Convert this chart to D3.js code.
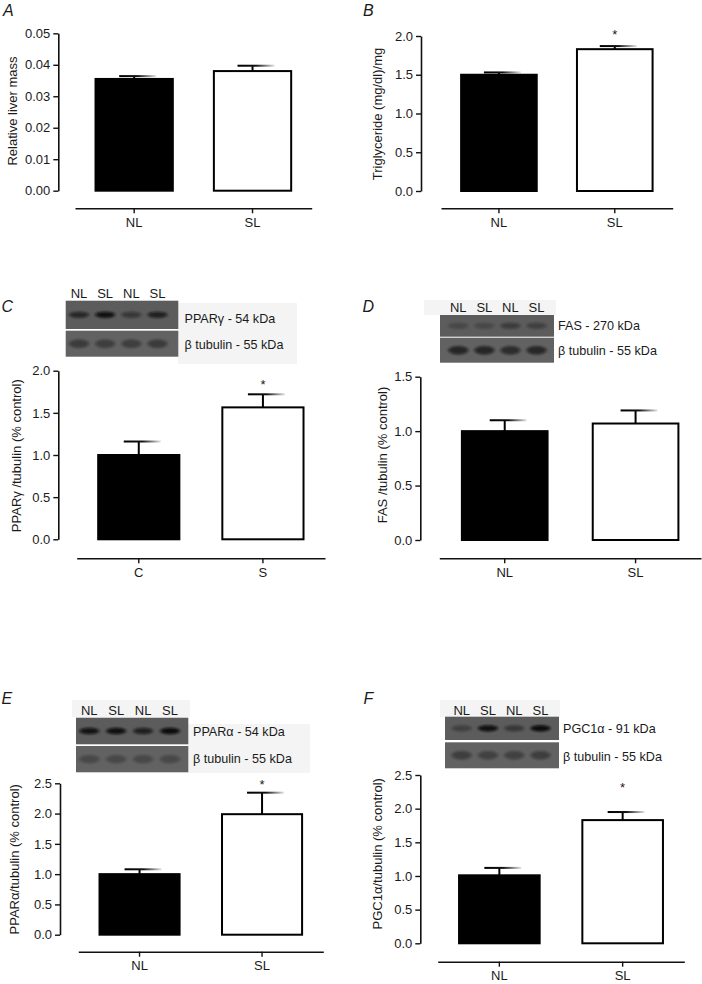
<!DOCTYPE html>
<html><head><meta charset="utf-8">
<script src="https://cdn.jsdelivr.net/npm/d3@7"></script>
<style>
html,body{margin:0;padding:0;background:#fff;}
svg{display:block;}
text{font-family:"Liberation Sans",Arial,Helvetica,sans-serif;fill:#1a1a1a;}
</style></head>
<body>
<script>
// ---------------- DATA ----------------
const panelLetters = ["A","B","C","D","E","F"];
const groupsA = ["NL","SL"], groupsB = ["NL","SL"], groupsC = ["C","S"],
      groupsD = ["NL","SL"], groupsE = ["NL","SL"], groupsF = ["NL","SL"];
const meanA = [0.0355, 0.0380], semA = [0.0009, 0.0017];
const meanB = [1.50, 1.83],     semB = [0.03, 0.04];
const meanC = [1.00, 1.565],    semC = [0.16, 0.155];
const meanD = [1.00, 1.07],     semD = [0.10, 0.12];
const meanE = [1.00, 1.99],     semE = [0.08, 0.355];
const meanF = [1.01, 1.83],     semF = [0.11, 0.12];
const starA = [null, null], starB = [null, 2.05], starC = [null, 1.86],
      starD = [null, null], starE = [null, 2.51], starF = [null, 2.35];
const ticksA = [0, 0.01, 0.02, 0.03, 0.04, 0.05];
const ticksB = [0, 0.5, 1.0, 1.5, 2.0];
const ticksC = [0, 0.5, 1.0, 1.5, 2.0];
const ticksD = [0, 0.5, 1.0, 1.5];
const ticksE = [0, 0.5, 1.0, 1.5, 2.0, 2.5];
const ticksF = [0, 0.5, 1.0, 1.5, 2.0, 2.5];
const titleA = "Relative liver mass";
const titleB = "Triglyceride (mg/dl)/mg";
const titleC = "PPARγ /tubulin (% control)";
const titleD = "FAS /tubulin (% control)";
const titleE = "PPARα/tubulin (% control)";
const titleF = "PGC1α/tubulin (% control)";
const laneLabels = ["NL","SL","NL","SL"];
const blotLabelsC = ["PPARγ - 54 kDa", "β tubulin - 55 kDa"];
const blotLabelsD = ["FAS - 270 kDa", "β tubulin - 55 kDa"];
const blotLabelsE = ["PPARα - 54 kDa", "β tubulin - 55 kDa"];
const blotLabelsF = ["PGC1α - 91 kDa", "β tubulin - 55 kDa"];
// band darkness (0-1) per lane, target row then tubulin row
const bandsC = [[0.65, 0.95, 0.45, 0.75], [0.45, 0.42, 0.42, 0.45]];
const bandsD = [[0.25, 0.25, 0.40, 0.35], [0.70, 0.70, 0.62, 0.68]];
const bandsE = [[0.90, 0.95, 0.75, 1.00], [0.30, 0.30, 0.30, 0.30]];
const bandsF = [[0.35, 0.95, 0.45, 1.00], [0.42, 0.38, 0.38, 0.42]];

// ---------------- LAYOUT ----------------
const W = 702, H = 984;
const FS = 13;
const svg = d3.select("body").append("svg").attr("width", W).attr("height", H);
svg.append("rect").attr("width", W).attr("height", H).attr("fill", "#fff");
const defs = svg.append("defs");
const grad = defs.append("linearGradient").attr("id", "capGrad")
  .attr("x1", "0").attr("x2", "1").attr("y1", "0").attr("y2", "0");
grad.append("stop").attr("offset", "0").attr("stop-color", "#000");
grad.append("stop").attr("offset", "0.5").attr("stop-color", "#111");
grad.append("stop").attr("offset", "1").attr("stop-color", "#e6e6e6");
const blur = defs.append("filter").attr("id", "bandBlur")
  .attr("x", "-50%").attr("y", "-100%").attr("width", "200%").attr("height", "300%");
blur.append("feGaussianBlur").attr("stdDeviation", "1.6 1.2");

const panels = [
  {letter: panelLetters[0], groups: groupsA, mean: meanA, sem: semA, star: starA, ticks: ticksA, fmt: ".2f", title: titleA,
   ax: 58.3, y0: 190.7, y1: 33.3, xl: [75, 311.7], xAxisY: 208.3, lpos: [3, 15.5], tpos: [16.5, 111]},
  {letter: panelLetters[1], groups: groupsB, mean: meanB, sem: semB, star: starB, ticks: ticksB, fmt: ".1f", title: titleB,
   ax: 421, y0: 191, y1: 36, xl: [441, 672.7], xAxisY: 208.3, lpos: [363, 15.5], tpos: [382, 114]},
  {letter: panelLetters[2], groups: groupsC, mean: meanC, sem: semC, star: starC, ticks: ticksC, fmt: ".1f", title: titleC,
   ax: 58.3, y0: 539.3, y1: 370.7, xl: [76.7, 325], xAxisY: 558.3, lpos: [1.5, 312], tpos: [20.5, 455.7],
   blot: {x: [65.7, 178.3], rows: [[300.7, 329], [330.7, 356.7]], lanes: [79, 157.5], laneY: 298,
          labels: blotLabelsC, labelX: 184.5, labelY: [322.8, 348.8], bands: bandsC,
          bg: [[178, 303, 119, 61]]}},
  {letter: panelLetters[3], groups: groupsD, mean: meanD, sem: semD, star: starD, ticks: ticksD, fmt: ".1f", title: titleD,
   ax: 420.3, y0: 540, y1: 376.7, xl: [439.3, 701], xAxisY: 558.3, lpos: [362.5, 312], tpos: [386.5, 455],
   blot: {x: [440, 554], rows: [[315, 336.7], [337.7, 362.7]], lanes: [458.3, 536.5], laneY: 312,
          labels: blotLabelsD, labelX: 558, labelY: [329.6, 354.6], bands: bandsD,
          bg: [[424, 300, 132, 15]]}},
  {letter: panelLetters[4], groups: groupsE, mean: meanE, sem: semE, star: starE, ticks: ticksE, fmt: ".1f", title: titleE,
   ax: 60, y0: 934.7, y1: 783.3, xl: [78.3, 323.3], xAxisY: 951.7, lpos: [1.5, 703.5], tpos: [18.5, 859.3],
   blot: {x: [76, 188.3], rows: [[717.7, 744.3], [746, 772.3]], lanes: [89.3, 170], laneY: 714.8,
          labels: blotLabelsE, labelX: 193, labelY: [735.6, 762.9], bands: bandsE,
          bg: [[72, 700, 118, 17], [188, 724, 122, 49]]}},
  {letter: panelLetters[5], groups: groupsF, mean: meanF, sem: semF, star: starF, ticks: ticksF, fmt: ".1f", title: titleF,
   ax: 420.3, y0: 943.3, y1: 775, xl: [437.7, 684.3], xAxisY: 961.7, lpos: [363.5, 703.5], tpos: [382, 853.8],
   blot: {x: [445, 559], rows: [[716.7, 740], [742.3, 768.3]], lanes: [461.7, 540.5], laneY: 714.8,
          labels: blotLabelsF, labelX: 563, labelY: [733, 760.6], bands: bandsF,
          bg: [[440, 700, 120, 17]]}}
];

panels.forEach(p => {
  const g = svg.append("g");
  const yMax = p.ticks[p.ticks.length - 1];
  const y = d3.scaleLinear().domain([0, yMax]).range([p.y0, p.y1]);
  const x = d3.scaleBand().domain(p.groups).range(p.xl).paddingInner(0.33).paddingOuter(0.165);

  // Panel letter
  g.append("text").attr("x", p.lpos[0]).attr("y", p.lpos[1])
    .attr("font-size", 16).attr("font-style", "italic").text(p.letter);

  // Blot
  if (p.blot) {
    const b = p.blot;
    b.bg.forEach(r => g.append("rect").attr("x", r[0]).attr("y", r[1]).attr("width", r[2]).attr("height", r[3]).attr("fill", "#f4f4f4"));
    const lane = d3.scalePoint().domain(d3.range(4)).range(b.lanes);
    b.rows.forEach((row, ri) => {
      g.append("rect").attr("x", b.x[0]).attr("y", row[0]).attr("width", b.x[1] - b.x[0]).attr("height", row[1] - row[0])
        .attr("fill", ri === 0 ? "#5c5c5c" : "#626262");
      const cy = (row[0] + row[1]) / 2;
      b.bands[ri].forEach((v, i) => {
        g.append("ellipse").attr("cx", lane(i)).attr("cy", cy)
          .attr("rx", 10).attr("ry", ri === 0 ? 3.2 : 4.2)
          .attr("fill", "#0a0a0a").attr("opacity", v).attr("filter", "url(#bandBlur)");
      });
    });
    laneLabels.forEach((t, i) => g.append("text").attr("x", lane(i)).attr("y", b.laneY)
      .attr("text-anchor", "middle").attr("font-size", FS).text(t));
    b.labels.forEach((t, i) => g.append("text").attr("x", b.labelX).attr("y", b.labelY[i])
      .attr("font-size", 12.6).text(t));
  }

  // Y axis
  const yAxis = d3.axisLeft(y).tickValues(p.ticks).tickFormat(d3.format(p.fmt)).tickSize(5).tickSizeOuter(0).tickPadding(3);
  const ya = g.append("g").attr("transform", `translate(${p.ax},0)`).call(yAxis);
  ya.select(".domain").attr("stroke", "#111").attr("stroke-width", 1.6);
  ya.selectAll(".tick line").attr("stroke", "#111").attr("stroke-width", 1.4);
  ya.selectAll(".tick text").attr("font-size", FS).attr("font-family", "Liberation Sans, Arial, sans-serif").attr("fill", "#1a1a1a");

  // Y title
  g.append("text").attr("transform", `translate(${p.tpos[0]},${p.tpos[1]}) rotate(-90)`)
    .attr("text-anchor", "middle").attr("font-size", FS).text(p.title);

  // X axis
  const xAxis = d3.axisBottom(x).tickSize(5).tickSizeOuter(0).tickPadding(4.5);
  const xa = g.append("g").attr("transform", `translate(0,${p.xAxisY})`).call(xAxis);
  xa.select(".domain").attr("stroke", "#111").attr("stroke-width", 1.6);
  xa.selectAll(".tick line").attr("stroke", "#111").attr("stroke-width", 1.4);
  xa.selectAll(".tick text").attr("font-size", FS).attr("font-family", "Liberation Sans, Arial, sans-serif").attr("fill", "#1a1a1a");

  // Error bars (drawn before bars)
  p.groups.forEach((grp, i) => {
    const cx = x(grp) + x.bandwidth() / 2;
    const top = y(p.mean[i] + p.sem[i]);
    g.append("line").attr("x1", cx).attr("x2", cx).attr("y1", y(p.mean[i])).attr("y2", top)
      .attr("stroke", "#000").attr("stroke-width", 2);
    g.append("rect").attr("x", cx - 15).attr("y", top - 1).attr("width", 37).attr("height", 2)
      .attr("fill", "url(#capGrad)");
    if (p.star[i] != null) {
      g.append("text").attr("x", cx).attr("y", y(p.star[i]) + 6.5).attr("text-anchor", "middle")
        .attr("font-size", 13).text("*");
    }
  });

  // Bars
  g.selectAll("rect.bar").data(p.groups).enter().append("rect").attr("class", "bar")
    .attr("x", d => x(d) + 1).attr("width", x.bandwidth() - 2)
    .attr("y", (d, i) => y(p.mean[i])).attr("height", (d, i) => y(0) - y(p.mean[i]))
    .attr("fill", (d, i) => i === 0 ? "#000" : "#fff")
    .attr("stroke", "#000").attr("stroke-width", 2);
});
</script>
</body></html>
